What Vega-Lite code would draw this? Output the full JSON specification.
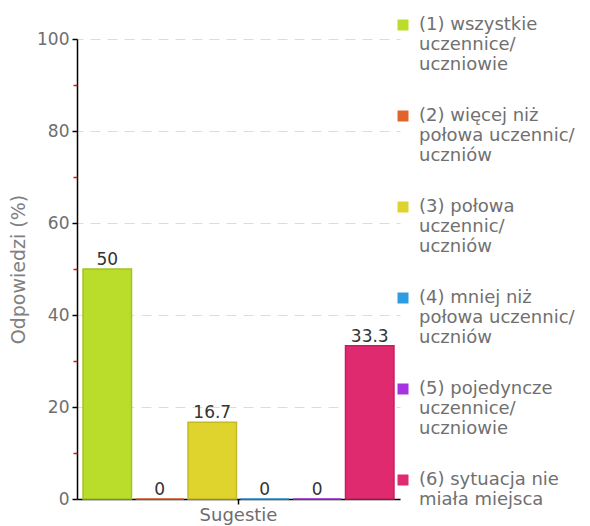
{
  "$schema": "https://vega.github.io/schema/vega-lite/v6.json",
  "width": 323,
  "height": 460,
  "autosize": {"type": "none"},
  "padding": {"left": 77, "top": 39, "right": 190, "bottom": 27},
  "background": "white",
  "config": {
    "font": "DejaVu Sans",
    "view": {"stroke": null}
  },
  "data": {
    "values": [
      {"grp": "Sugestie", "kat": "(1) wszystkie|uczennice/|uczniowie", "value": 50, "label": "50"},
      {"grp": "Sugestie", "kat": "(2) więcej niż|połowa uczennic/|uczniów", "value": 0, "label": "0"},
      {"grp": "Sugestie", "kat": "(3) połowa|uczennic/|uczniów", "value": 16.7, "label": "16.7"},
      {"grp": "Sugestie", "kat": "(4) mniej niż|połowa uczennic/|uczniów", "value": 0, "label": "0"},
      {"grp": "Sugestie", "kat": "(5) pojedyncze|uczennice/|uczniowie", "value": 0, "label": "0"},
      {"grp": "Sugestie", "kat": "(6) sytuacja nie|miała miejsca", "value": 33.3, "label": "33.3"}
    ]
  },
  "encoding": {
    "x": {
      "field": "grp",
      "type": "nominal",
      "scale": {"paddingInner": 0, "paddingOuter": 0},
      "axis": {
        "title": null,
        "labelAngle": 0,
        "labelFontSize": 18,
        "labelColor": "#6e6e6e",
        "labelPadding": 2,
        "tickColor": "#000000",
        "tickSize": 5,
        "tickWidth": 1.5,
        "domainColor": "#000000",
        "domainWidth": 1.5
      }
    },
    "xOffset": {
      "field": "kat",
      "type": "nominal",
      "sort": null,
      "scale": {"paddingInner": 0.077, "paddingOuter": 0.115}
    }
  },
  "layer": [
    {
      "mark": {"type": "bar", "strokeWidth": 1.5},
      "encoding": {
        "y": {
          "field": "value",
          "type": "quantitative",
          "scale": {"domain": [0, 100], "nice": false},
          "axis": {
            "title": "Odpowiedzi (%)",
            "titleFontSize": 19,
            "titleFontWeight": "normal",
            "titleColor": "#808080",
            "titlePadding": 8,
            "values": [0, 20, 40, 60, 80, 100],
            "labelFontSize": 17,
            "labelColor": "#6e6e6e",
            "labelPadding": 3,
            "tickColor": "#000000",
            "tickSize": 5,
            "tickWidth": 1.5,
            "domainColor": "#000000",
            "domainWidth": 1.5,
            "grid": true,
            "gridColor": "#dcdcdc",
            "gridDash": [10, 7],
            "gridDashOffset": 4,
            "gridWidth": 1
          }
        },
        "fill": {
          "field": "kat",
          "type": "nominal",
          "sort": null,
          "scale": {
            "domain": [
              "(1) wszystkie|uczennice/|uczniowie",
              "(2) więcej niż|połowa uczennic/|uczniów",
              "(3) połowa|uczennic/|uczniów",
              "(4) mniej niż|połowa uczennic/|uczniów",
              "(5) pojedyncze|uczennice/|uczniowie",
              "(6) sytuacja nie|miała miejsca"
            ],
            "range": ["#badd2b", "#e0642b", "#dfd42e", "#2e9ce0", "#a533e0", "#df2a6f"]
          },
          "legend": {
            "title": null,
            "orient": "none",
            "legendX": 317,
            "legendY": -23,
            "padding": 0,
            "symbolType": "square",
            "symbolSize": 121,
            "symbolStrokeWidth": 0,
            "labelFontSize": 18,
            "labelColor": "#707070",
            "labelLimit": 220,
            "labelOffset": 7,
            "labelBaseline": "middle",
            "rowPadding": 33,
            "labelExpr": "split(datum.label, '|')"
          }
        },
        "stroke": {
          "field": "kat",
          "type": "nominal",
          "sort": null,
          "scale": {
            "domain": [
              "(1) wszystkie|uczennice/|uczniowie",
              "(2) więcej niż|połowa uczennic/|uczniów",
              "(3) połowa|uczennic/|uczniów",
              "(4) mniej niż|połowa uczennic/|uczniów",
              "(5) pojedyncze|uczennice/|uczniowie",
              "(6) sytuacja nie|miała miejsca"
            ],
            "range": ["#a3c21f", "#e0642b", "#c4b91f", "#2e9ce0", "#a533e0", "#c41f5c"]
          },
          "legend": null
        }
      }
    },
    {
      "mark": {"type": "text", "baseline": "alphabetic", "dy": -4, "fontSize": 17, "color": "#333333"},
      "encoding": {
        "y": {
          "field": "value",
          "type": "quantitative",
          "axis": {
            "orient": "left",
            "title": null,
            "values": [10, 30, 50, 70, 90],
            "labels": false,
            "domain": false,
            "grid": false,
            "tickColor": "#ff0000",
            "tickSize": 4,
            "tickWidth": 1.5
          }
        },
        "text": {"field": "label"}
      }
    }
  ],
  "resolve": {"axis": {"y": "independent"}, "scale": {"y": "shared"}}
}
